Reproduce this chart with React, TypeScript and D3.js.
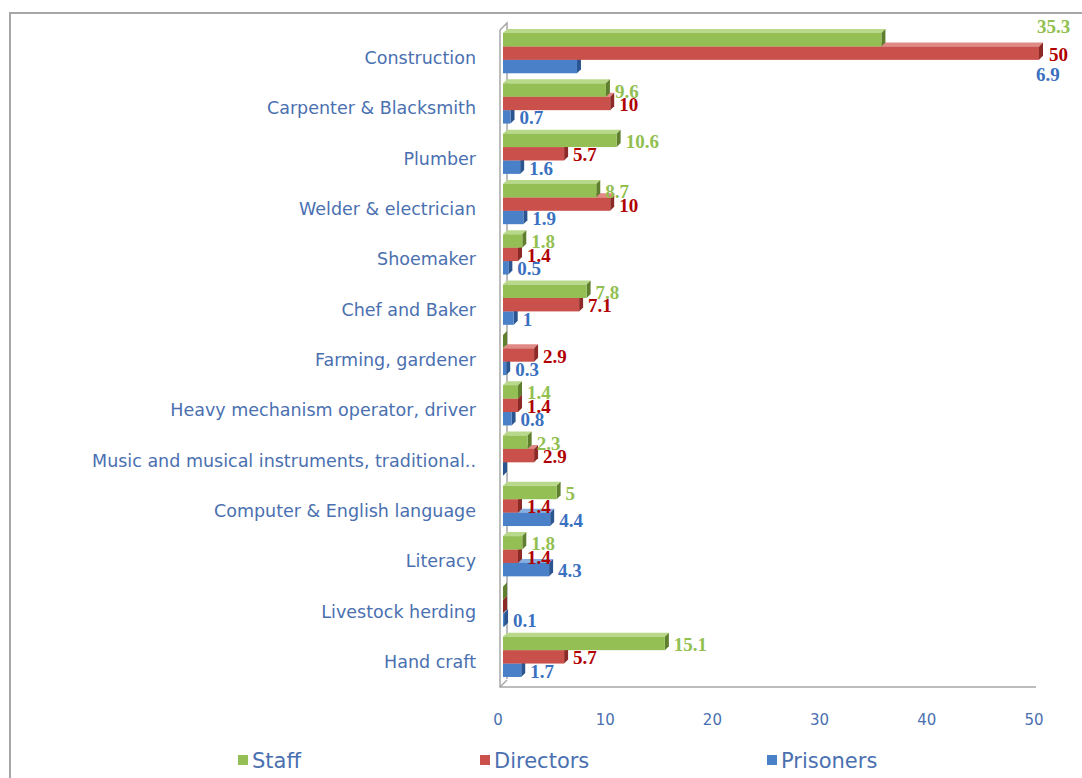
import React from "react";
import * as d3 from "d3";

const categories = [
  "Construction",
  "Carpenter & Blacksmith",
  "Plumber",
  "Welder & electrician",
  "Shoemaker",
  "Chef and Baker",
  "Farming, gardener",
  "Heavy mechanism operator, driver",
  "Music and musical instruments, traditional..",
  "Computer & English language",
  "Literacy",
  "Livestock herding",
  "Hand craft",
];
const staff = [35.3, 9.6, 10.6, 8.7, 1.8, 7.8, 0, 1.4, 2.3, 5, 1.8, 0, 15.1];
const directors = [50, 10, 5.7, 10, 1.4, 7.1, 2.9, 1.4, 2.9, 1.4, 1.4, 0, 5.7];
const prisoners = [6.9, 0.7, 1.6, 1.9, 0.5, 1, 0.3, 0.8, 0, 4.4, 4.3, 0.1, 1.7];
const xTicks = [0, 10, 20, 30, 40, 50];

const seriesNames = ["Staff", "Directors", "Prisoners"];
const seriesValues = [staff, directors, prisoners];
const front = ["#93bf55", "#c9504b", "#4a80c8"];
const side = ["#5f7f2e", "#8c2a27", "#2b5591"];
const top = ["#b8d88a", "#e08a86", "#86aee0"];
const labelColor = ["#92c050", "#b00000", "#3a70c0"];
const textBlue = "#4a70b0";

const W = 1082;
const H = 778;
const DX = 4;
const DY = 4;

export default function App() {
  const x = d3.scaleLinear().domain([0, 50]).range([500, 1036]);
  const barX0 = x(0) + 3;
  const y = d3
    .scaleBand<string>()
    .domain(categories)
    .range([28, 682])
    .paddingInner(0.2)
    .paddingOuter(0.1);
  const bw = y.bandwidth();
  const bh = bw / 3;
  const maxVal = d3.max(directors.concat(staff, prisoners)) as number;

  const bars: React.ReactNode[] = [];
  const labels: React.ReactNode[] = [];
  categories.forEach((c, ci) => {
    const y0 = y(c) as number;
    const isMax = seriesValues.some((s) => s[ci] === maxVal);
    const endMax = barX0 + (x(maxVal) - x(0));
    for (let si = 2; si >= 0; si--) {
      const v = seriesValues[si][ci];
      const w = x(v) - x(0);
      const by = y0 + si * bh;
      const xe = barX0 + w;
      bars.push(
        <g key={`b-${ci}-${si}`}>
          <polygon
            points={`${barX0},${by} ${barX0 + DX},${by - DY} ${xe + DX},${by - DY} ${xe},${by}`}
            fill={top[si]}
          />
          <polygon
            points={`${xe},${by} ${xe + DX},${by - DY} ${xe + DX},${by + bh - DY} ${xe},${by + bh}`}
            fill={side[si]}
          />
          {w > 0 && <rect x={barX0} y={by} width={w} height={bh} fill={front[si]} />}
        </g>
      );
      if (v > 0) {
        let lx = xe + DX + 5;
        let ly = by + bh / 2 + 1;
        if (isMax) {
          if (si === 0) {
            lx = endMax - 2;
            ly = by + bh / 2 - 13;
          } else if (si === 1) {
            lx = endMax + DX + 6;
          } else {
            lx = endMax - 3;
            ly = by + bh / 2 + 8;
          }
        }
        labels.push(
          <text
            key={`l-${ci}-${si}`}
            x={lx}
            y={ly}
            dominantBaseline="central"
            fill={labelColor[si]}
            fontFamily="'Liberation Serif', 'Times New Roman', serif"
            fontWeight="bold"
            fontSize={19}
          >
            {String(v)}
          </text>
        );
      }
    }
  });

  const legendX = [238, 480, 767];

  return (
    <svg
      width={W}
      height={H}
      style={{ position: "absolute", left: 0, top: 0, background: "#fff" }}
    >
      <rect x={0} y={0} width={W} height={H} fill="#fff" />
      <path d={`M10,${H} L10,13 L${W},13`} fill="none" stroke="#a6a6a6" strokeWidth={2} />
      <g stroke="#a6a6a6" strokeWidth={1.5} fill="none">
        <path d={`M${x(0)},30 L${x(0) + 7},23 L${x(0) + 7},679`} />
        <path d={`M${x(0)},30 L${x(0)},687 L${x(50)},687`} />
        <path d={`M${x(0)},687 L${x(0) + 7},680`} />
      </g>
      {bars}
      {labels}
      {categories.map((c) => (
        <text
          key={c}
          x={476}
          y={(y(c) as number) + bw / 2 + 5}
          textAnchor="end"
          dominantBaseline="central"
          fill={textBlue}
          fontFamily="'DejaVu Sans', Verdana, sans-serif"
          fontSize={17.5}
        >
          {c}
        </text>
      ))}
      {xTicks.map((t) => (
        <text
          key={t}
          x={x(t) - 2}
          y={720}
          textAnchor="middle"
          dominantBaseline="central"
          fill={textBlue}
          fontFamily="'DejaVu Sans', Verdana, sans-serif"
          fontSize={15}
        >
          {t}
        </text>
      ))}
      {seriesNames.map((n, i) => (
        <g key={n}>
          <rect x={legendX[i]} y={755} width={10} height={10} fill={front[i]} />
          <text
            x={legendX[i] + 14}
            y={761}
            dominantBaseline="central"
            fill={textBlue}
            fontFamily="'DejaVu Sans', Verdana, sans-serif"
            fontSize={21}
          >
            {n}
          </text>
        </g>
      ))}
    </svg>
  );
}
